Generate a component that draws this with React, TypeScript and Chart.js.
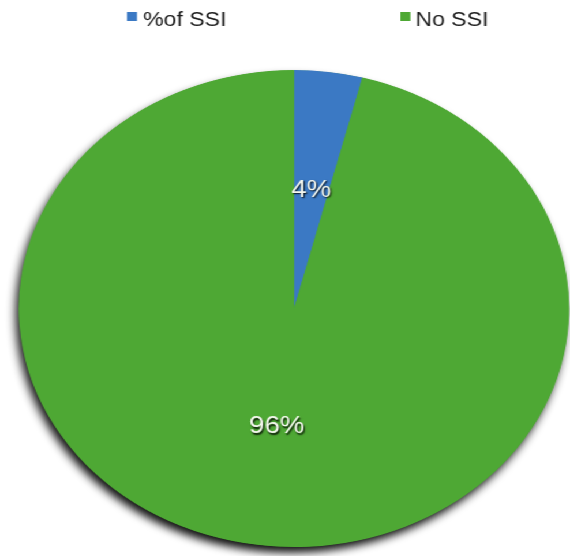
import React, { useEffect, useRef } from "react";
import { Chart, registerables } from "chart.js";

Chart.register(...registerables);

const labels = ["%of SSI", "No SSI"];
const values = [4, 96];
const colors = ["#3b79c4", "#4ea834"];
const legendBoxX = [110, 347];
const legendTextX = [124, 360];

const STRETCH = 570 / 494;
const W = 494;
const H = 556;

const shadowPlugin = {
  id: "pieShadow",
  beforeDatasetsDraw(chart: any) {
    const meta = chart.getDatasetMeta(0);
    const arc = meta.data[0];
    if (!arc) return;
    const { x, y, outerRadius } = arc.getProps(["x", "y", "outerRadius"], true);
    const ctx = chart.ctx;
    ctx.save();
    ctx.shadowColor = "rgba(0,0,0,0.95)";
    ctx.shadowBlur = 8;
    ctx.shadowOffsetX = -3;
    ctx.shadowOffsetY = 6;
    ctx.fillStyle = colors[1];
    ctx.beginPath();
    ctx.arc(x, y, outerRadius - 0.5, 0, Math.PI * 2);
    ctx.fill();
    ctx.restore();
  },
};

const labelPlugin = {
  id: "pieLabels",
  afterDatasetsDraw(chart: any) {
    const meta = chart.getDatasetMeta(0);
    const ctx = chart.ctx;
    ctx.save();
    ctx.font = "24px 'Liberation Sans', Arial, sans-serif";
    ctx.textAlign = "center";
    ctx.textBaseline = "middle";
    meta.data.forEach((arc: any, i: number) => {
      const { x, y, startAngle, endAngle, outerRadius } = arc.getProps(
        ["x", "y", "startAngle", "endAngle", "outerRadius"],
        true
      );
      const mid = (startAngle + endAngle) / 2;
      const r = outerRadius * 0.5;
      const tx = x + Math.cos(mid) * r;
      const ty = y + Math.sin(mid) * r;
      ctx.shadowColor = "rgba(0,0,0,0.85)";
      ctx.shadowBlur = 1.5;
      ctx.shadowOffsetX = 1;
      ctx.shadowOffsetY = 1.5;
      ctx.fillStyle = "#f4f7ee";
      ctx.fillText(`${values[i]}%`, tx, ty);
    });
    ctx.restore();
  },
};

const legendPlugin = {
  id: "customLegend",
  afterDraw(chart: any) {
    const ctx = chart.ctx;
    ctx.save();
    ctx.font = "20px 'Liberation Sans', Arial, sans-serif";
    ctx.textBaseline = "middle";
    ctx.textAlign = "left";
    labels.forEach((lab, i) => {
      ctx.fillStyle = colors[i];
      ctx.fillRect(legendBoxX[i], 12, 8.7, 9);
      ctx.fillStyle = "#1c1c1c";
      ctx.fillText(lab, legendTextX[i], 20);
    });
    ctx.restore();
  },
};

export default function App() {
  const ref = useRef<HTMLCanvasElement>(null);
  useEffect(() => {
    document.body.style.margin = "0";
    const chart = new Chart(ref.current as HTMLCanvasElement, {
      type: "pie",
      data: {
        labels,
        datasets: [
          {
            data: values,
            backgroundColor: colors,
            borderWidth: 0,
          },
        ],
      },
      options: {
        animation: false,
        responsive: true,
        maintainAspectRatio: false,
        layout: { padding: { left: 16.3, right: 0.7, top: 70, bottom: 9 } },
        plugins: {
          legend: { display: false },
          tooltip: { enabled: false },
        },
      },
      plugins: [shadowPlugin, labelPlugin, legendPlugin],
    });
    return () => chart.destroy();
  }, []);
  return (
    <div
      style={{
        position: "fixed",
        left: 0,
        top: 0,
        width: W,
        height: H,
        transform: `scaleX(${STRETCH})`,
        transformOrigin: "0 0",
        background: "#fff",
      }}
    >
      <div style={{ position: "relative", width: W, height: H }}>
        <canvas ref={ref} />
      </div>
    </div>
  );
}
